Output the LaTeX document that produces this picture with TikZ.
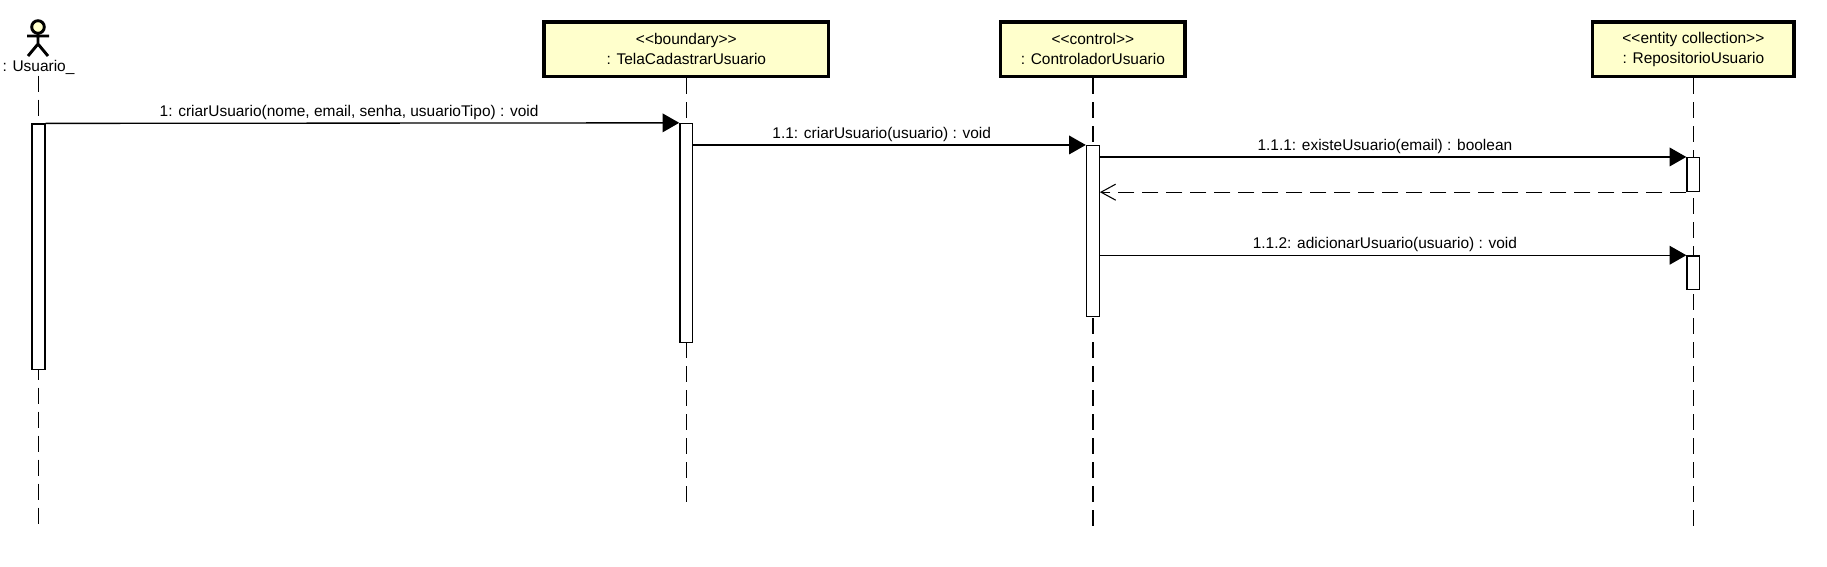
\documentclass[tikz,border=0pt]{standalone}
\usepackage{fontspec}
\setmainfont{Liberation Sans}
\usepackage{xcolor}
\usetikzlibrary{arrows.meta,positioning}
\definecolor{umlyellow}{HTML}{FFFFCC}

\begin{document}
\begin{tikzpicture}[
    x=0.75pt, y=-0.75pt,
    objbox/.style={draw, line width=2.5pt, fill=umlyellow, minimum height=41pt,
                   align=center, inner sep=0pt,
                   font=\fontsize{11.6}{15}\selectfont},
    actbar/.style={draw, line width=1pt, fill=white, minimum width=9.6pt,
                   inner sep=0pt, anchor=north},
    lifeline/.style={line width=1pt, dash pattern=on 12pt off 6pt},
    msglabel/.style={font=\fontsize{11.6}{14}\selectfont, above, inner sep=2pt},
    arrow/.style={-{Triangle[length=12.5pt, width=14pt]}, line width=1pt},
    retarrow/.style={-{Straight Barb[length=11pt, width=12pt, line width=0.8pt]},
                     line width=0.9pt, dash pattern=on 12pt off 6pt},
]
\useasboundingbox (0,0) rectangle (1827,567);

\node[objbox, minimum width=213.6pt] (tela) at (686.3,49.3)
      {<{}<boundary>{}>\\: TelaCadastrarUsuario};
\node[objbox, minimum width=138.4pt, right=126.4pt of tela] (ctrl)
      {<{}<control>{}>\\: ControladorUsuario};
\node[objbox, minimum width=151pt, right=303.2pt of ctrl] (repo)
      {<{}<entity collection>{}>\\: RepositorioUsuario};

\coordinate (head) at (38,27);
\draw[line width=2.2pt, fill=umlyellow] (head) circle (6.3);
\draw[line width=2.2pt] (38,33.5) -- (38,44) (27,36) -- (49,36)
      (28,56) -- (38,44) -- (48,56);
\node[font=\fontsize{11.6}{14}\selectfont, inner sep=0pt, text height=8pt, text depth=3pt]
      (usuario) at (38.5,68) {: Usuario\_};

\coordinate (usuarioEnd) at (usuario |- 0,526);
\coordinate (telaEnd) at (tela |- 0,503);
\coordinate (ctrlEnd) at (ctrl |- 0,526);
\coordinate (repoEnd) at (repo |- 0,526);
\draw[lifeline] (usuario) -- (usuarioEnd);
\draw[lifeline] (tela) -- (telaEnd);
\draw[lifeline] (ctrl) -- (ctrlEnd);
\draw[lifeline] (repo) -- (repoEnd);

\node[actbar, minimum height=184pt] (barU) at (usuario |- 0,123.4) {};
\node[actbar, minimum height=164pt, below=33.4pt of tela] (barT) {};
\node[actbar, minimum height=128pt, below=50pt of ctrl] (barC) {};
\node[actbar, minimum height=25.4pt, below=59pt of repo] (barR) {};
\node[actbar, minimum height=25.4pt, below=132.7pt of repo] (barS) {};

\draw[arrow] (barU.north east) -- node[msglabel, pos=0.479]
      {1: criarUsuario(nome, email, senha, usuarioTipo) : void} (barT.north west);
\draw[arrow] (barC.north west -| barT.east) -- node[msglabel, pos=0.48]
      {1.1: criarUsuario(usuario) : void} (barC.north west);
\draw[arrow] (barR.north west -| barC.east) -- node[msglabel, pos=0.486]
      {1.1.1: existeUsuario(email) : boolean} (barR.north west);
\draw[retarrow] (barR.south west) -- (barR.south west -| barC.east);
\draw[arrow] (barS.north west -| barC.east) -- node[msglabel, pos=0.486]
      {1.1.2: adicionarUsuario(usuario) : void} (barS.north west);
\end{tikzpicture}
\end{document}
